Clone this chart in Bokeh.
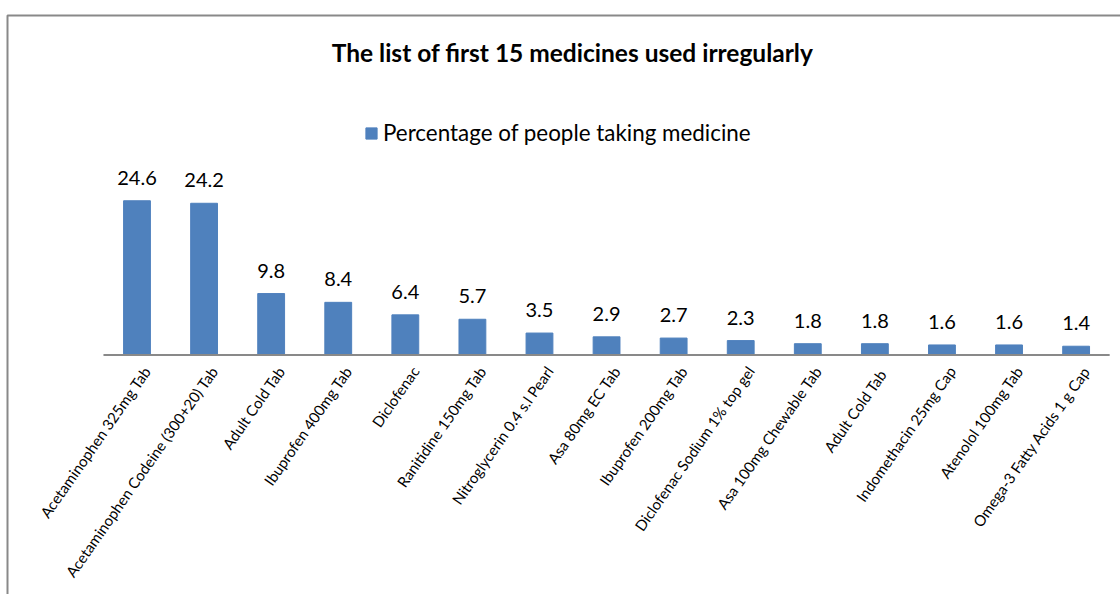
from bokeh.plotting import figure
from bokeh.models import Range1d, Legend, LegendItem, ColumnDataSource
from bokeh.core.properties import value
from bokeh.embed import file_html
from bokeh.resources import INLINE
import math

# ---- data ----
medicines = [
    "Acetaminophen 325mg Tab",
    "Acetaminophen Codeine (300+20) Tab",
    "Adult Cold Tab",
    "Ibuprofen 400mg Tab",
    "Diclofenac",
    "Ranitidine 150mg Tab",
    "Nitroglycerin 0.4 s.l Pearl",
    "Asa 80mg EC Tab",
    "Ibuprofen 200mg Tab",
    "Diclofenac Sodium 1% top gel",
    "Asa 100mg Chewable Tab",
    "Adult Cold  Tab",
    "Indomethacin 25mg Cap",
    "Atenolol 100mg Tab",
    "Omega-3 Fatty Acids 1 g Cap",
]
percentages = [24.6, 24.2, 9.8, 8.4, 6.4, 5.7, 3.5, 2.9, 2.7, 2.3, 1.8, 1.8, 1.6, 1.6, 1.4]
series_name = "Percentage of people taking medicine"
title_text = "The list of first 15 medicines used irregularly"

W, H = 1120, 594
# layout (pixels)
X0_PX, STEP_PX = 136.5, 67.08     # centre of first category, category width
AXIS_PX, UNIT_PX = 354.5, 6.27    # baseline pixel row, pixels per percent

x_start = -X0_PX / STEP_PX
x_end = (W - X0_PX) / STEP_PX
y_start = -(H - AXIS_PX) / UNIT_PX
y_end = AXIS_PX / UNIT_PX

def px2x(px):
    return x_start + px / W * (x_end - x_start)

def py2y(py):
    return y_end - py / H * (y_end - y_start)

n = len(medicines)
idx = list(range(n))

p = figure(width=W, height=H, x_range=Range1d(x_start, x_end), y_range=Range1d(y_start, y_end),
           output_backend="svg", toolbar_location=None, min_border=0,
           x_axis_location=None, y_axis_location=None, outline_line_color=None)
p.grid.grid_line_color = None
p.background_fill_color = "white"
p.border_fill_color = "white"

src = ColumnDataSource(dict(x=idx, top=percentages, name=medicines,
                            lbl=["%.1f" % v for v in percentages], zero=[0] * n))

BAR = "#4F81BD"
GRAY = "#898989"
FONT = "Lato"

# chart-area border (left and top edges of the chart box)
p.line(x=[px2x(7), px2x(7), px2x(W + 5)], y=[py2y(H + 5), py2y(15), py2y(15)],
       line_color=GRAY, line_width=2)

bars = p.vbar(x="x", top="top", width=0.40, source=src, fill_color=BAR, line_color=BAR)

# category axis line
p.line(x=[-0.5, n - 0.5], y=[0, 0], line_color=GRAY, line_width=2)

# data labels
p.text(x="x", y="top", text="lbl", source=src, text_align="center", text_baseline="middle",
       y_offset=-23, text_font=value(FONT), text_font_size="20px", text_color="#000000")

# category tick labels (rotated)
p.text(x="x", y="zero", text="name", source=src, angle=math.radians(55),
       text_align="right", text_baseline="middle", x_offset=10, y_offset=13,
       text_font=value(FONT), text_font_size="15px", text_color="#000000")

# title
p.text(x=[px2x(572)], y=[py2y(52)], text=[title_text], text_align="center",
       text_baseline="middle", text_font=value(FONT), text_font_size="24.5px",
       text_font_style="bold", text_color="#000000")

legend = Legend(items=[LegendItem(label=series_name, renderers=[bars])],
                location=(364, H - 146), orientation="horizontal",
                glyph_width=14, glyph_height=14, label_standoff=5,
                label_text_font=FONT, label_text_font_size="22.4px", label_text_color="#000000",
                padding=0, margin=0, spacing=0, border_line_color=None,
                background_fill_alpha=0, label_height=14)
p.add_layout(legend)

open("out.html", "w").write(file_html(p, INLINE))
